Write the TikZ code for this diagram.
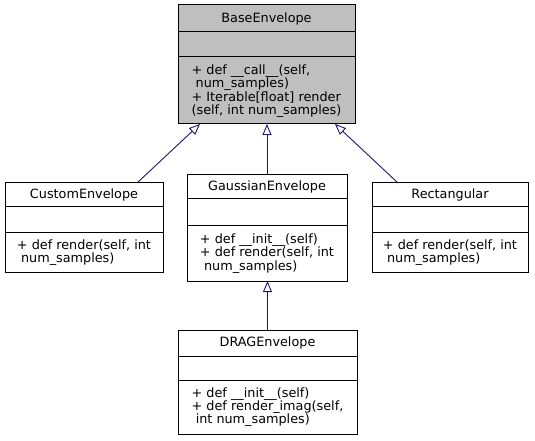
\documentclass[tikz,border=0pt]{standalone}
\usepackage{fontspec}
\setmainfont{DejaVu Sans}
\usetikzlibrary{arrows.meta}
\definecolor{edgeblue}{HTML}{191970}
\definecolor{basegrey}{HTML}{BFBFBF}
\tikzset{
  frame/.style={draw=black, line width=1bp, inner sep=0pt, outer sep=0pt},
  divider/.style={draw=black, line width=1bp},
  titletext/.style={inner sep=0pt, font=\fontsize{12.8bp}{13.3bp}\selectfont},
  methtext/.style={inner sep=0pt, align=left, font=\fontsize{12.8bp}{13.3bp}\selectfont},
  inherit/.style={draw=edgeblue, line width=0.9bp, -{Triangle[open, length=11bp, width=9bp, line width=0.9bp]}}
}
% opts, name, x1, x2, y1, ya, yb, y2, title
\newcommand\umlclass[9]{%
  \node[frame, #1, minimum width={(#4-#3)*1bp}, minimum height={(#8-#5)*1bp}] (#2) at ({(#3+#4)/2},{(#5+#8)/2}) {};
  \draw[divider] (#3,#6) -- (#4,#6) (#3,#7) -- (#4,#7);
  \node[titletext] (#2-t) at ({(#3+#4)/2},{(#5+#6)/2}) {#9};
}
\begin{document}
\begin{tikzpicture}[x=1bp, y=-1bp]
\useasboundingbox (0,0) rectangle (535,441);
\fill[white] (0,0) rectangle (535,441);

\umlclass{fill=basegrey}{base}{178}{355}{5}{32}{57}{124}{BaseEnvelope}
\node[methtext] (base-m) at (266.5,91) {+ def \_\_call\_\_(self,\\\hspace*{0.32em}num\_samples)\\+ Iterable[float] render\\(self, int num\_samples)};

\umlclass{fill=white}{cust}{5}{163}{183}{207}{233}{272}{CustomEnvelope}
\node[methtext] (cust-m) at (84,252.5) {+ def render(self, int\\\hspace*{0.32em}num\_samples)};

\umlclass{fill=white}{gauss}{187}{347}{175}{199}{226}{281}{GaussianEnvelope}
\node[methtext] (gauss-m) at (267,253.5) {+ def \_\_init\_\_(self)\\+ def render(self, int\\\hspace*{0.32em}num\_samples)};

\umlclass{fill=white}{rect}{372}{528}{183}{207}{233}{272}{Rectangular}
\node[methtext] (rect-m) at (450,252.5) {+ def render(self, int\\\hspace*{0.32em}num\_samples)};

\umlclass{fill=white}{drag}{178}{357}{330}{356}{380}{434}{DRAGEnvelope}
\node[methtext] (drag-m) at (267.5,407) {+ def \_\_init\_\_(self)\\+ def render\_imag(self,\\\hspace*{0.32em}int num\_samples)};

\draw[inherit] ([xshift=-26bp]cust.north east) -- ([xshift=22bp]base.south west);
\draw[inherit] (gauss.north) -- (gauss.north |- base.south);
\draw[inherit] ([xshift=26bp]rect.north west) -- ([xshift=-20bp]base.south east);
\draw[inherit] (drag.north) -- (drag.north |- gauss.south);
\end{tikzpicture}
\end{document}
